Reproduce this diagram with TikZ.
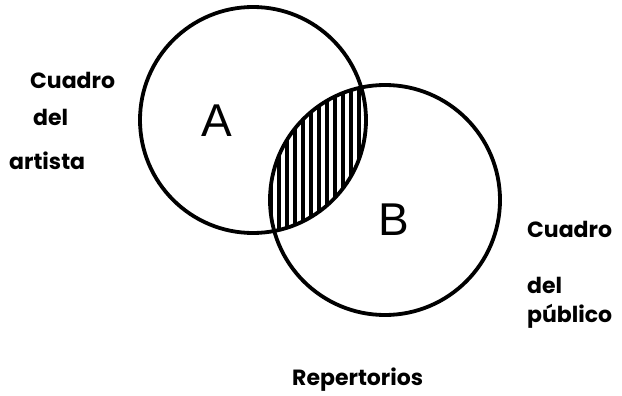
\documentclass[tikz,border=0pt]{standalone}
\usepackage{fontspec}
\setmainfont{Poppins}
\newfontfamily\letterfont{Liberation Sans}
\begin{document}
\begin{tikzpicture}[x=1pt,y=-1pt,
  ring/.style={draw=black,line width=3.8pt},
  hatch/.style={line width=4.2pt},
  lbl/.style={anchor=base west,inner sep=0pt,font=\bfseries\fontsize{22}{22}\selectfont},
  big/.style={inner sep=0pt,font=\letterfont\fontsize{46}{46}\selectfont}]
\useasboundingbox (0,0) rectangle (622,396);
\coordinate (ca) at (253,120);
\coordinate (cb) at (385,200);
\begin{scope}
  \clip (ca) circle (113);
  \clip (cb) circle (115);
  \foreach \x in {263,271,...,372} {\draw[hatch] (\x,60) -- (\x,260);}
\end{scope}
\draw[ring] (ca) circle (113);
\draw[ring] (cb) circle (115);
\node[big] (la) at (217,121) {A};
\node[big] (lb) at (394,220) {B};
\node[lbl] (a1) at (30,89) {Cuadro};
\node[lbl] (a2) at (33,126) {del};
\node[lbl] (a3) at (9,169) {artista};
\node[lbl] (b1) at (527,237) {Cuadro};
\node[lbl] (b2) at (527,293) {del};
\node[lbl] (b3) at (527,322) {público};
\node[lbl] (r) at (292,385) {Repertorios};
\end{tikzpicture}
\end{document}
